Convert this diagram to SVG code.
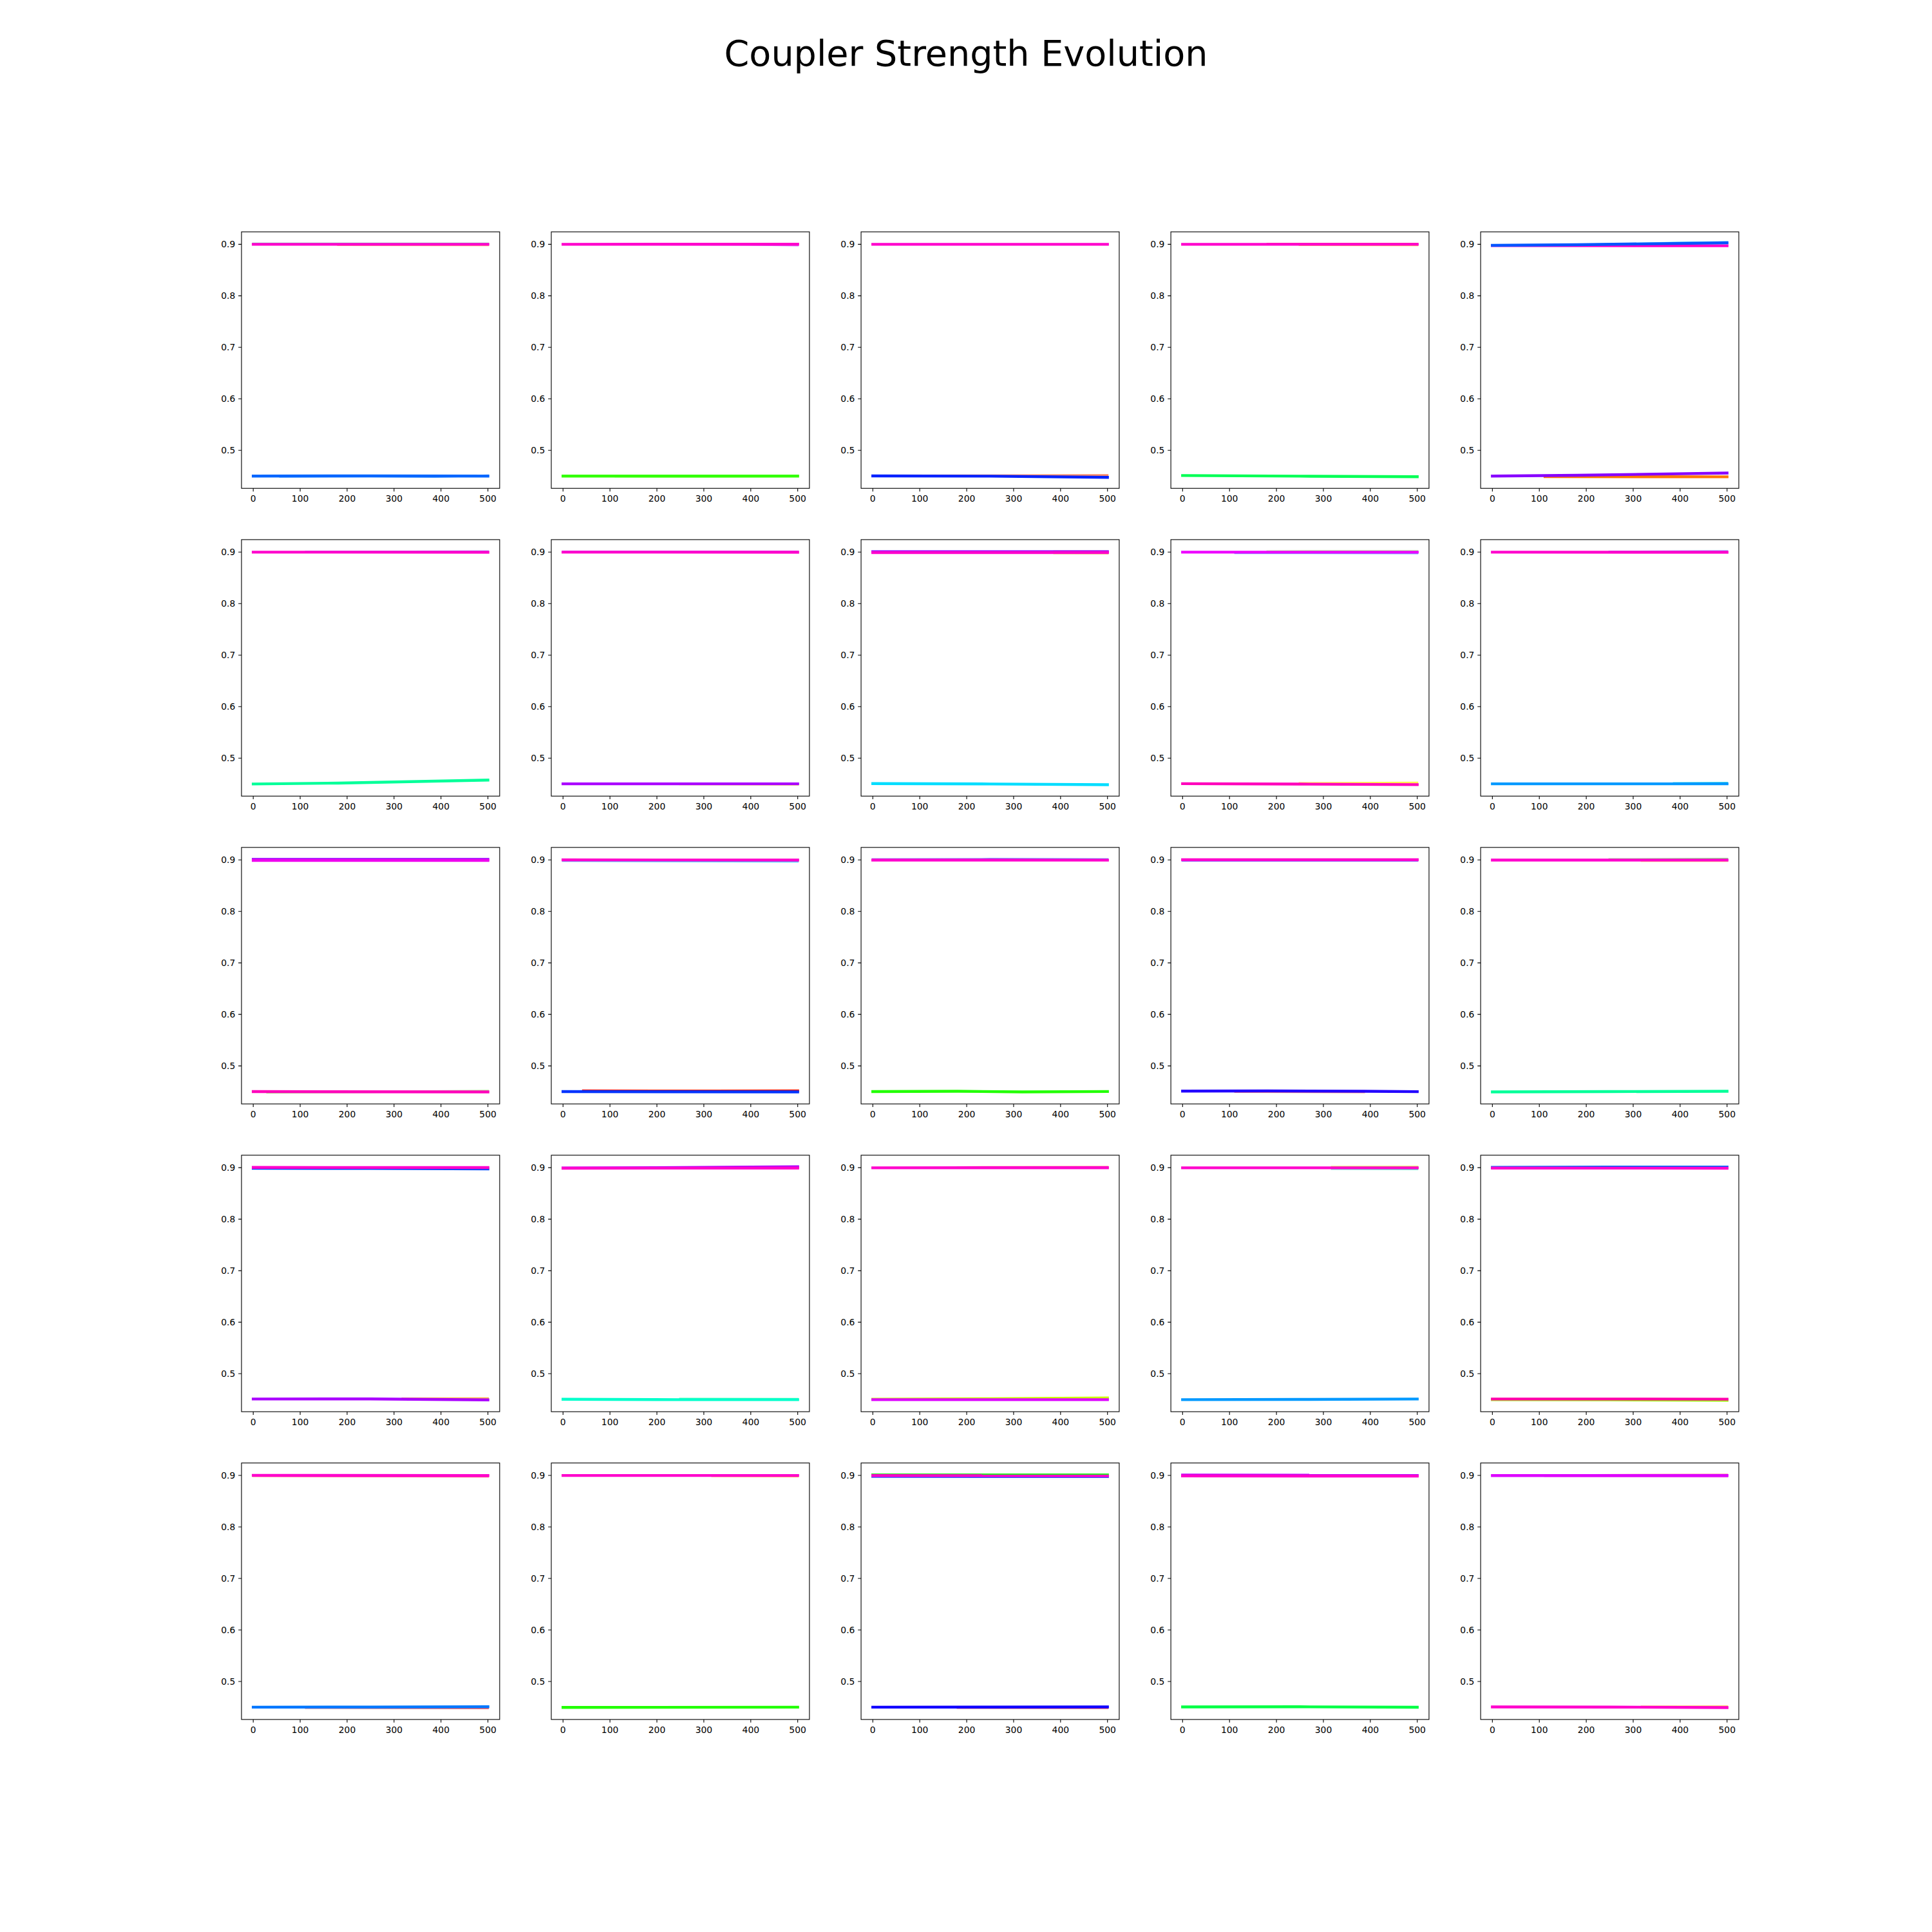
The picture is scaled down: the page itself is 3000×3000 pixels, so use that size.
<svg xmlns="http://www.w3.org/2000/svg" xmlns:xlink="http://www.w3.org/1999/xlink" width="3000" height="3000" viewBox="0 0 3000 3000">
<style>
text{font-family:"DejaVu Sans","Liberation Sans",sans-serif;fill:#000}
.title{font-size:55.6px;text-anchor:middle}
.yl{font-size:13.9px;text-anchor:end}
.xl{font-size:13.9px;text-anchor:middle}
.frame{fill:none;stroke:#000;stroke-width:1.11}
.tk{fill:none;stroke:#000;stroke-width:1.11}
.m{fill:none;stroke-width:4.4;stroke-linecap:square;stroke-linejoin:round}
.s{fill:none;stroke-width:3;stroke-linecap:square;stroke-linejoin:round;opacity:0.7}
</style>
<defs>
<g id="axes">
<rect class="frame" x="0" y="0" width="400.86" height="398.28"/>
<path class="tk" d="M18.22 398.28v4.86M91.1 398.28v4.86M163.99 398.28v4.86M236.87 398.28v4.86M309.76 398.28v4.86M382.64 398.28v4.86M0 19.35h-4.86M0 99.33h-4.86M0 179.3h-4.86M0 259.28h-4.86M0 339.25h-4.86"/>
</g>
</defs>
<rect x="0" y="0" width="3000" height="3000" fill="#fff"/>
<text class="title" x="1500" y="102">Coupler Strength Evolution</text>

<!-- Row 0 -->
<g id="ax-0-0" transform="translate(375,360)">
<use xlink:href="#axes" href="#axes"/>
<text class="yl" x="-9.7" y="24.4">0.9</text><text class="yl" x="-9.7" y="104.4">0.8</text><text class="yl" x="-9.7" y="184.4">0.7</text><text class="yl" x="-9.7" y="264.3">0.6</text><text class="yl" x="-9.7" y="344.3">0.5</text>
<text class="xl" x="18.2" y="419">0</text><text class="xl" x="91.1" y="419">100</text><text class="xl" x="164" y="419">200</text><text class="xl" x="236.9" y="419">300</text><text class="xl" x="309.8" y="419">400</text><text class="xl" x="382.6" y="419">500</text>
<path class="s" stroke="#33cc99" d="M18.2 18.3L382.6 18.3"/><path class="s" stroke="#ffaa33" d="M150 20.6L382.6 20.8"/>
<path class="m" stroke="#ff00cc" d="M18.2 19.4L382.6 19.4"/>
<path class="s" stroke="#3399ff" d="M60 380.2L200 379.8L300 380.4L382.6 378.4"/>
<path class="m" stroke="#0066ff" d="M18.2 379.2L200 379L382.6 379.2"/>
</g>
<g id="ax-0-1" transform="translate(856.03,360)">
<use xlink:href="#axes" href="#axes"/>
<text class="yl" x="-9.7" y="24.4">0.9</text><text class="yl" x="-9.7" y="104.4">0.8</text><text class="yl" x="-9.7" y="184.4">0.7</text><text class="yl" x="-9.7" y="264.3">0.6</text><text class="yl" x="-9.7" y="344.3">0.5</text>
<text class="xl" x="18.2" y="419">0</text><text class="xl" x="91.1" y="419">100</text><text class="xl" x="164" y="419">200</text><text class="xl" x="236.9" y="419">300</text><text class="xl" x="309.8" y="419">400</text><text class="xl" x="382.6" y="419">500</text>
<path class="s" stroke="#bb44ff" d="M120 19.4L300 20L382.6 21"/>
<path class="m" stroke="#ff00cc" d="M18.2 19.4L382.6 19.2"/>
<path class="s" stroke="#66ff33" d="M100 379.8L250 380L382.6 379.6"/>
<path class="m" stroke="#33ff00" d="M18.2 379.2L382.6 379.2"/>
</g>
<g id="ax-0-2" transform="translate(1337.07,360)">
<use xlink:href="#axes" href="#axes"/>
<text class="yl" x="-9.7" y="24.4">0.9</text><text class="yl" x="-9.7" y="104.4">0.8</text><text class="yl" x="-9.7" y="184.4">0.7</text><text class="yl" x="-9.7" y="264.3">0.6</text><text class="yl" x="-9.7" y="344.3">0.5</text>
<text class="xl" x="18.2" y="419">0</text><text class="xl" x="91.1" y="419">100</text><text class="xl" x="164" y="419">200</text><text class="xl" x="236.9" y="419">300</text><text class="xl" x="309.8" y="419">400</text><text class="xl" x="382.6" y="419">500</text>
<path class="m" stroke="#ff00cc" d="M18.2 19.4L382.6 19.4"/>
<path class="s" stroke="#ff5522" d="M18.2 378.4L200 378.2L382.6 377.8"/>
<path class="m" stroke="#0022ff" d="M18.2 379L200 379.4L382.6 381.2"/>
</g>
<g id="ax-0-3" transform="translate(1818.1,360)">
<use xlink:href="#axes" href="#axes"/>
<text class="yl" x="-9.7" y="24.4">0.9</text><text class="yl" x="-9.7" y="104.4">0.8</text><text class="yl" x="-9.7" y="184.4">0.7</text><text class="yl" x="-9.7" y="264.3">0.6</text><text class="yl" x="-9.7" y="344.3">0.5</text>
<text class="xl" x="18.2" y="419">0</text><text class="xl" x="91.1" y="419">100</text><text class="xl" x="164" y="419">200</text><text class="xl" x="236.9" y="419">300</text><text class="xl" x="309.8" y="419">400</text><text class="xl" x="382.6" y="419">500</text>
<path class="s" stroke="#ff3333" d="M150 18.6L382.6 18.4"/><path class="s" stroke="#ffcc00" d="M200 20.6L382.6 20.8"/>
<path class="m" stroke="#ff00cc" d="M18.2 19.4L382.6 19.4"/>
<path class="m" stroke="#00ff55" d="M18.2 378.4L200 379.4L382.6 380.2"/>
</g>
<g id="ax-0-4" transform="translate(2299.14,360)">
<use xlink:href="#axes" href="#axes"/>
<text class="yl" x="-9.7" y="24.4">0.9</text><text class="yl" x="-9.7" y="104.4">0.8</text><text class="yl" x="-9.7" y="184.4">0.7</text><text class="yl" x="-9.7" y="264.3">0.6</text><text class="yl" x="-9.7" y="344.3">0.5</text>
<text class="xl" x="18.2" y="419">0</text><text class="xl" x="91.1" y="419">100</text><text class="xl" x="164" y="419">200</text><text class="xl" x="236.9" y="419">300</text><text class="xl" x="309.8" y="419">400</text><text class="xl" x="382.6" y="419">500</text>
<path class="s" stroke="#00ccff" d="M150 20L300 17L382.6 16"/>
<path class="m" stroke="#ff00cc" d="M18.2 21.2L382.6 21.6"/>
<path class="m" stroke="#0055ff" d="M18.2 21L150 20L382.6 17"/>
<path class="m" stroke="#ff7700" d="M100 380L382.6 380.4"/>
<path class="m" stroke="#8800ff" d="M18.2 379.2L150 378L382.6 374.6"/>
</g>

<!-- Row 1 -->
<g id="ax-1-0" transform="translate(375,837.93)">
<use xlink:href="#axes" href="#axes"/>
<text class="yl" x="-9.7" y="24.4">0.9</text><text class="yl" x="-9.7" y="104.4">0.8</text><text class="yl" x="-9.7" y="184.4">0.7</text><text class="yl" x="-9.7" y="264.3">0.6</text><text class="yl" x="-9.7" y="344.3">0.5</text>
<text class="xl" x="18.2" y="419">0</text><text class="xl" x="91.1" y="419">100</text><text class="xl" x="164" y="419">200</text><text class="xl" x="236.9" y="419">300</text><text class="xl" x="309.8" y="419">400</text><text class="xl" x="382.6" y="419">500</text>
<path class="s" stroke="#3366ff" d="M100 18.8L382.6 18.2"/>
<path class="m" stroke="#ff00cc" d="M18.2 19.4L382.6 19.6"/>
<path class="m" stroke="#00ff99" d="M18.2 379.4L150 378L382.6 373.4"/>
</g>
<g id="ax-1-1" transform="translate(856.03,837.93)">
<use xlink:href="#axes" href="#axes"/>
<text class="yl" x="-9.7" y="24.4">0.9</text><text class="yl" x="-9.7" y="104.4">0.8</text><text class="yl" x="-9.7" y="184.4">0.7</text><text class="yl" x="-9.7" y="264.3">0.6</text><text class="yl" x="-9.7" y="344.3">0.5</text>
<text class="xl" x="18.2" y="419">0</text><text class="xl" x="91.1" y="419">100</text><text class="xl" x="164" y="419">200</text><text class="xl" x="236.9" y="419">300</text><text class="xl" x="309.8" y="419">400</text><text class="xl" x="382.6" y="419">500</text>
<path class="s" stroke="#7700ff" d="M18.2 18.6L382.6 18.6"/>
<path class="m" stroke="#ff00cc" d="M18.2 19.4L382.6 19.6"/>
<path class="s" stroke="#ffee00" d="M200 379.8L382.6 380.4"/>
<path class="m" stroke="#aa00ff" d="M18.2 379.2L382.6 379.2"/>
</g>
<g id="ax-1-2" transform="translate(1337.07,837.93)">
<use xlink:href="#axes" href="#axes"/>
<text class="yl" x="-9.7" y="24.4">0.9</text><text class="yl" x="-9.7" y="104.4">0.8</text><text class="yl" x="-9.7" y="184.4">0.7</text><text class="yl" x="-9.7" y="264.3">0.6</text><text class="yl" x="-9.7" y="344.3">0.5</text>
<text class="xl" x="18.2" y="419">0</text><text class="xl" x="91.1" y="419">100</text><text class="xl" x="164" y="419">200</text><text class="xl" x="236.9" y="419">300</text><text class="xl" x="309.8" y="419">400</text><text class="xl" x="382.6" y="419">500</text>
<path class="s" stroke="#ff7700" d="M300 18.4L382.6 18.2"/><path class="s" stroke="#ccee00" d="M300 21L382.6 21.4"/>
<path class="m" stroke="#8800ff" d="M18.2 18.8L382.6 18.8"/>
<path class="m" stroke="#ff00cc" d="M18.2 20L382.6 20"/>
<path class="m" stroke="#00ddff" d="M18.2 378.8L200 379.4L382.6 380.6"/>
</g>
<g id="ax-1-3" transform="translate(1818.1,837.93)">
<use xlink:href="#axes" href="#axes"/>
<text class="yl" x="-9.7" y="24.4">0.9</text><text class="yl" x="-9.7" y="104.4">0.8</text><text class="yl" x="-9.7" y="184.4">0.7</text><text class="yl" x="-9.7" y="264.3">0.6</text><text class="yl" x="-9.7" y="344.3">0.5</text>
<text class="xl" x="18.2" y="419">0</text><text class="xl" x="91.1" y="419">100</text><text class="xl" x="164" y="419">200</text><text class="xl" x="236.9" y="419">300</text><text class="xl" x="309.8" y="419">400</text><text class="xl" x="382.6" y="419">500</text>
<path class="s" stroke="#66ff33" d="M150 18.2L382.6 18"/><path class="s" stroke="#3366ff" d="M100 20.8L382.6 21"/>
<path class="m" stroke="#ee00ff" d="M18.2 19.4L382.6 19.4"/>
<path class="s" stroke="#ffee00" d="M200 378L382.6 377.4"/>
<path class="m" stroke="#ff00bb" d="M18.2 379L200 379.6L382.6 380.4"/>
</g>
<g id="ax-1-4" transform="translate(2299.14,837.93)">
<use xlink:href="#axes" href="#axes"/>
<text class="yl" x="-9.7" y="24.4">0.9</text><text class="yl" x="-9.7" y="104.4">0.8</text><text class="yl" x="-9.7" y="184.4">0.7</text><text class="yl" x="-9.7" y="264.3">0.6</text><text class="yl" x="-9.7" y="344.3">0.5</text>
<text class="xl" x="18.2" y="419">0</text><text class="xl" x="91.1" y="419">100</text><text class="xl" x="164" y="419">200</text><text class="xl" x="236.9" y="419">300</text><text class="xl" x="309.8" y="419">400</text><text class="xl" x="382.6" y="419">500</text>
<path class="s" stroke="#3355ff" d="M200 18.6L382.6 18"/>
<path class="m" stroke="#ff00cc" d="M18.2 19.4L382.6 19.6"/>
<path class="s" stroke="#00ccdd" d="M300 378L382.6 377.6"/>
<path class="m" stroke="#0099ff" d="M18.2 379.2L382.6 379.2"/>
</g>

<!-- Row 2 -->
<g id="ax-2-0" transform="translate(375,1315.86)">
<use xlink:href="#axes" href="#axes"/>
<text class="yl" x="-9.7" y="24.4">0.9</text><text class="yl" x="-9.7" y="104.4">0.8</text><text class="yl" x="-9.7" y="184.4">0.7</text><text class="yl" x="-9.7" y="264.3">0.6</text><text class="yl" x="-9.7" y="344.3">0.5</text>
<text class="xl" x="18.2" y="419">0</text><text class="xl" x="91.1" y="419">100</text><text class="xl" x="164" y="419">200</text><text class="xl" x="236.9" y="419">300</text><text class="xl" x="309.8" y="419">400</text><text class="xl" x="382.6" y="419">500</text>
<path class="m" stroke="#9900ff" d="M18.2 18.6L382.6 18.6"/>
<path class="m" stroke="#ee00ee" d="M18.2 20.2L382.6 20.2"/>
<path class="s" stroke="#66ff33" d="M40 380.6L200 380L300 378.6L382.6 378.2"/>
<path class="m" stroke="#ff00bb" d="M18.2 379.2L382.6 379.6"/>
</g>
<g id="ax-2-1" transform="translate(856.03,1315.86)">
<use xlink:href="#axes" href="#axes"/>
<text class="yl" x="-9.7" y="24.4">0.9</text><text class="yl" x="-9.7" y="104.4">0.8</text><text class="yl" x="-9.7" y="184.4">0.7</text><text class="yl" x="-9.7" y="264.3">0.6</text><text class="yl" x="-9.7" y="344.3">0.5</text>
<text class="xl" x="18.2" y="419">0</text><text class="xl" x="91.1" y="419">100</text><text class="xl" x="164" y="419">200</text><text class="xl" x="236.9" y="419">300</text><text class="xl" x="309.8" y="419">400</text><text class="xl" x="382.6" y="419">500</text>
<path class="s" stroke="#00aaff" d="M18.2 21L382.6 21.8"/>
<path class="m" stroke="#ff00cc" d="M18.2 19.4L382.6 19.6"/>
<path class="m" stroke="#ff1100" d="M50 378.2L250 378.4L382.6 378"/>
<path class="m" stroke="#0033ff" d="M18.2 379.2L382.6 379.6"/>
</g>
<g id="ax-2-2" transform="translate(1337.07,1315.86)">
<use xlink:href="#axes" href="#axes"/>
<text class="yl" x="-9.7" y="24.4">0.9</text><text class="yl" x="-9.7" y="104.4">0.8</text><text class="yl" x="-9.7" y="184.4">0.7</text><text class="yl" x="-9.7" y="264.3">0.6</text><text class="yl" x="-9.7" y="344.3">0.5</text>
<text class="xl" x="18.2" y="419">0</text><text class="xl" x="91.1" y="419">100</text><text class="xl" x="164" y="419">200</text><text class="xl" x="236.9" y="419">300</text><text class="xl" x="309.8" y="419">400</text><text class="xl" x="382.6" y="419">500</text>
<path class="s" stroke="#2244ff" d="M18.2 18.4L200 18L382.6 18.4"/>
<path class="m" stroke="#ff00cc" d="M18.2 19.6L382.6 19.8"/>
<path class="m" stroke="#22ff00" d="M18.2 379.2L150 378.6L250 379.6L382.6 379"/>
</g>
<g id="ax-2-3" transform="translate(1818.1,1315.86)">
<use xlink:href="#axes" href="#axes"/>
<text class="yl" x="-9.7" y="24.4">0.9</text><text class="yl" x="-9.7" y="104.4">0.8</text><text class="yl" x="-9.7" y="184.4">0.7</text><text class="yl" x="-9.7" y="264.3">0.6</text><text class="yl" x="-9.7" y="344.3">0.5</text>
<text class="xl" x="18.2" y="419">0</text><text class="xl" x="91.1" y="419">100</text><text class="xl" x="164" y="419">200</text><text class="xl" x="236.9" y="419">300</text><text class="xl" x="309.8" y="419">400</text><text class="xl" x="382.6" y="419">500</text>
<path class="s" stroke="#3344ff" d="M18.2 20.6L382.6 20.6"/>
<path class="m" stroke="#ff00cc" d="M18.2 19.2L382.6 19.2"/>
<path class="s" stroke="#ff5544" d="M100 379.6L300 380.2"/>
<path class="m" stroke="#2200ff" d="M18.2 378.4L150 378.2L300 378.6L382.6 379.2"/>
</g>
<g id="ax-2-4" transform="translate(2299.14,1315.86)">
<use xlink:href="#axes" href="#axes"/>
<text class="yl" x="-9.7" y="24.4">0.9</text><text class="yl" x="-9.7" y="104.4">0.8</text><text class="yl" x="-9.7" y="184.4">0.7</text><text class="yl" x="-9.7" y="264.3">0.6</text><text class="yl" x="-9.7" y="344.3">0.5</text>
<text class="xl" x="18.2" y="419">0</text><text class="xl" x="91.1" y="419">100</text><text class="xl" x="164" y="419">200</text><text class="xl" x="236.9" y="419">300</text><text class="xl" x="309.8" y="419">400</text><text class="xl" x="382.6" y="419">500</text>
<path class="s" stroke="#33ee33" d="M200 18.4L382.6 18"/><path class="s" stroke="#ffdd00" d="M250 20.8L382.6 21"/>
<path class="m" stroke="#ff00cc" d="M18.2 19.6L382.6 19.6"/>
<path class="m" stroke="#00ff99" d="M18.2 379.6L200 379.2L382.6 378.6"/>
</g>

<!-- Row 3 -->
<g id="ax-3-0" transform="translate(375,1793.79)">
<use xlink:href="#axes" href="#axes"/>
<text class="yl" x="-9.7" y="24.4">0.9</text><text class="yl" x="-9.7" y="104.4">0.8</text><text class="yl" x="-9.7" y="184.4">0.7</text><text class="yl" x="-9.7" y="264.3">0.6</text><text class="yl" x="-9.7" y="344.3">0.5</text>
<text class="xl" x="18.2" y="419">0</text><text class="xl" x="91.1" y="419">100</text><text class="xl" x="164" y="419">200</text><text class="xl" x="236.9" y="419">300</text><text class="xl" x="309.8" y="419">400</text><text class="xl" x="382.6" y="419">500</text>
<path class="m" stroke="#0044ff" d="M18.2 20.2L200 20.6L382.6 21.2"/>
<path class="m" stroke="#ff00cc" d="M18.2 19L382.6 19.2"/>
<path class="s" stroke="#ff9900" d="M250 377.8L382.6 377.4"/>
<path class="m" stroke="#aa00ff" d="M18.2 378.6L200 378.4L382.6 380"/>
</g>
<g id="ax-3-1" transform="translate(856.03,1793.79)">
<use xlink:href="#axes" href="#axes"/>
<text class="yl" x="-9.7" y="24.4">0.9</text><text class="yl" x="-9.7" y="104.4">0.8</text><text class="yl" x="-9.7" y="184.4">0.7</text><text class="yl" x="-9.7" y="264.3">0.6</text><text class="yl" x="-9.7" y="344.3">0.5</text>
<text class="xl" x="18.2" y="419">0</text><text class="xl" x="91.1" y="419">100</text><text class="xl" x="164" y="419">200</text><text class="xl" x="236.9" y="419">300</text><text class="xl" x="309.8" y="419">400</text><text class="xl" x="382.6" y="419">500</text>
<path class="m" stroke="#aa00ff" d="M18.2 19.8L200 19.2L382.6 18"/>
<path class="m" stroke="#ff00cc" d="M18.2 20.2L382.6 20"/>
<path class="s" stroke="#00ff99" d="M200 378.2L382.6 378.4"/>
<path class="m" stroke="#00ffcc" d="M18.2 379L200 379.6L382.6 379.6"/>
</g>
<g id="ax-3-2" transform="translate(1337.07,1793.79)">
<use xlink:href="#axes" href="#axes"/>
<text class="yl" x="-9.7" y="24.4">0.9</text><text class="yl" x="-9.7" y="104.4">0.8</text><text class="yl" x="-9.7" y="184.4">0.7</text><text class="yl" x="-9.7" y="264.3">0.6</text><text class="yl" x="-9.7" y="344.3">0.5</text>
<text class="xl" x="18.2" y="419">0</text><text class="xl" x="91.1" y="419">100</text><text class="xl" x="164" y="419">200</text><text class="xl" x="236.9" y="419">300</text><text class="xl" x="309.8" y="419">400</text><text class="xl" x="382.6" y="419">500</text>
<path class="s" stroke="#ff3333" d="M150 18.6L382.6 18.2"/>
<path class="m" stroke="#ff00cc" d="M18.2 19.6L382.6 19.4"/>
<path class="m" stroke="#ccff00" d="M18.2 379L200 378.2L382.6 377"/>
<path class="m" stroke="#dd00ff" d="M18.2 379.6L382.6 379.6"/>
</g>
<g id="ax-3-3" transform="translate(1818.1,1793.79)">
<use xlink:href="#axes" href="#axes"/>
<text class="yl" x="-9.7" y="24.4">0.9</text><text class="yl" x="-9.7" y="104.4">0.8</text><text class="yl" x="-9.7" y="184.4">0.7</text><text class="yl" x="-9.7" y="264.3">0.6</text><text class="yl" x="-9.7" y="344.3">0.5</text>
<text class="xl" x="18.2" y="419">0</text><text class="xl" x="91.1" y="419">100</text><text class="xl" x="164" y="419">200</text><text class="xl" x="236.9" y="419">300</text><text class="xl" x="309.8" y="419">400</text><text class="xl" x="382.6" y="419">500</text>
<path class="s" stroke="#ccee00" d="M250 18.2L382.6 18"/><path class="s" stroke="#33ccbb" d="M250 21.2L382.6 21.6"/>
<path class="m" stroke="#ff00cc" d="M18.2 19.6L382.6 19.6"/>
<path class="m" stroke="#0099ff" d="M18.2 379.6L200 379.2L382.6 378.6"/>
</g>
<g id="ax-3-4" transform="translate(2299.14,1793.79)">
<use xlink:href="#axes" href="#axes"/>
<text class="yl" x="-9.7" y="24.4">0.9</text><text class="yl" x="-9.7" y="104.4">0.8</text><text class="yl" x="-9.7" y="184.4">0.7</text><text class="yl" x="-9.7" y="264.3">0.6</text><text class="yl" x="-9.7" y="344.3">0.5</text>
<text class="xl" x="18.2" y="419">0</text><text class="xl" x="91.1" y="419">100</text><text class="xl" x="164" y="419">200</text><text class="xl" x="236.9" y="419">300</text><text class="xl" x="309.8" y="419">400</text><text class="xl" x="382.6" y="419">500</text>
<path class="m" stroke="#0066ff" d="M18.2 19L200 18.4L382.6 18.4"/>
<path class="m" stroke="#ff00cc" d="M18.2 20L382.6 20.2"/>
<path class="m" stroke="#99ff00" d="M18.2 379.6L200 379.8L382.6 380.6"/>
<path class="m" stroke="#ff00aa" d="M18.2 378.6L250 378.6L382.6 378.8"/>
</g>

<!-- Row 4 -->
<g id="ax-4-0" transform="translate(375,2271.72)">
<use xlink:href="#axes" href="#axes"/>
<text class="yl" x="-9.7" y="24.4">0.9</text><text class="yl" x="-9.7" y="104.4">0.8</text><text class="yl" x="-9.7" y="184.4">0.7</text><text class="yl" x="-9.7" y="264.3">0.6</text><text class="yl" x="-9.7" y="344.3">0.5</text>
<text class="xl" x="18.2" y="419">0</text><text class="xl" x="91.1" y="419">100</text><text class="xl" x="164" y="419">200</text><text class="xl" x="236.9" y="419">300</text><text class="xl" x="309.8" y="419">400</text><text class="xl" x="382.6" y="419">500</text>
<path class="s" stroke="#ff3344" d="M18.2 20.4L382.6 21"/>
<path class="m" stroke="#ff00cc" d="M18.2 19.2L382.6 19.6"/>
<path class="s" stroke="#ff2222" d="M100 380.2L382.6 380.8"/>
<path class="m" stroke="#0077ff" d="M18.2 379.2L200 379L382.6 378.6"/>
</g>
<g id="ax-4-1" transform="translate(856.03,2271.72)">
<use xlink:href="#axes" href="#axes"/>
<text class="yl" x="-9.7" y="24.4">0.9</text><text class="yl" x="-9.7" y="104.4">0.8</text><text class="yl" x="-9.7" y="184.4">0.7</text><text class="yl" x="-9.7" y="264.3">0.6</text><text class="yl" x="-9.7" y="344.3">0.5</text>
<text class="xl" x="18.2" y="419">0</text><text class="xl" x="91.1" y="419">100</text><text class="xl" x="164" y="419">200</text><text class="xl" x="236.9" y="419">300</text><text class="xl" x="309.8" y="419">400</text><text class="xl" x="382.6" y="419">500</text>
<path class="s" stroke="#ff9900" d="M250 20.4L382.6 20.8"/>
<path class="m" stroke="#ff00cc" d="M18.2 19.4L382.6 19.4"/>
<path class="m" stroke="#22ff00" d="M18.2 379.6L382.6 379.2"/>
</g>
<g id="ax-4-2" transform="translate(1337.07,2271.72)">
<use xlink:href="#axes" href="#axes"/>
<text class="yl" x="-9.7" y="24.4">0.9</text><text class="yl" x="-9.7" y="104.4">0.8</text><text class="yl" x="-9.7" y="184.4">0.7</text><text class="yl" x="-9.7" y="264.3">0.6</text><text class="yl" x="-9.7" y="344.3">0.5</text>
<text class="xl" x="18.2" y="419">0</text><text class="xl" x="91.1" y="419">100</text><text class="xl" x="164" y="419">200</text><text class="xl" x="236.9" y="419">300</text><text class="xl" x="309.8" y="419">400</text><text class="xl" x="382.6" y="419">500</text>
<path class="m" stroke="#22ee22" d="M18.2 18.4L382.6 18.4"/>
<path class="m" stroke="#3355ff" d="M18.2 20.8L382.6 21.2"/>
<path class="m" stroke="#ff00cc" d="M18.2 19.6L382.6 19.8"/>
<path class="s" stroke="#ff2222" d="M150 380.2L382.6 380.6"/>
<path class="m" stroke="#1100ff" d="M18.2 379.2L200 379L382.6 378.8"/>
</g>
<g id="ax-4-3" transform="translate(1818.1,2271.72)">
<use xlink:href="#axes" href="#axes"/>
<text class="yl" x="-9.7" y="24.4">0.9</text><text class="yl" x="-9.7" y="104.4">0.8</text><text class="yl" x="-9.7" y="184.4">0.7</text><text class="yl" x="-9.7" y="264.3">0.6</text><text class="yl" x="-9.7" y="344.3">0.5</text>
<text class="xl" x="18.2" y="419">0</text><text class="xl" x="91.1" y="419">100</text><text class="xl" x="164" y="419">200</text><text class="xl" x="236.9" y="419">300</text><text class="xl" x="309.8" y="419">400</text><text class="xl" x="382.6" y="419">500</text>
<path class="m" stroke="#bb00ff" d="M18.2 18.8L382.6 19"/>
<path class="m" stroke="#ff00cc" d="M18.2 20L382.6 20.4"/>
<path class="m" stroke="#00ff44" d="M18.2 378.8L200 378.6L382.6 379.2"/>
</g>
<g id="ax-4-4" transform="translate(2299.14,2271.72)">
<use xlink:href="#axes" href="#axes"/>
<text class="yl" x="-9.7" y="24.4">0.9</text><text class="yl" x="-9.7" y="104.4">0.8</text><text class="yl" x="-9.7" y="184.4">0.7</text><text class="yl" x="-9.7" y="264.3">0.6</text><text class="yl" x="-9.7" y="344.3">0.5</text>
<text class="xl" x="18.2" y="419">0</text><text class="xl" x="91.1" y="419">100</text><text class="xl" x="164" y="419">200</text><text class="xl" x="236.9" y="419">300</text><text class="xl" x="309.8" y="419">400</text><text class="xl" x="382.6" y="419">500</text>
<path class="s" stroke="#ff2244" d="M100 19L382.6 18.2"/><path class="s" stroke="#ff66cc" d="M100 20.4L382.6 21"/>
<path class="m" stroke="#dd00ff" d="M18.2 19.6L382.6 19.6"/>
<path class="s" stroke="#ffaa00" d="M250 378.4L382.6 378"/>
<path class="m" stroke="#ff00cc" d="M18.2 378.8L200 379L382.6 379.8"/>
</g>
</svg>
